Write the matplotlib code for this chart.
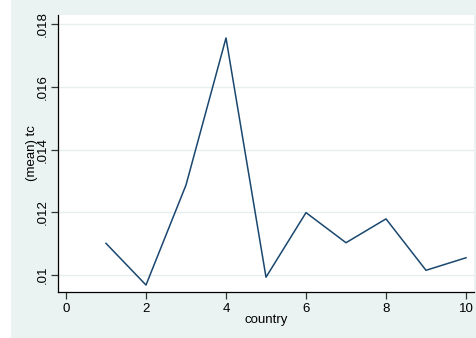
import matplotlib
matplotlib.use("Agg")
import matplotlib.pyplot as plt
from matplotlib.patches import Rectangle

# mean of tc by country
country = [1, 2, 3, 4, 5, 6, 7, 8, 9, 10]
mean_tc = [0.01101, 0.00968, 0.01287, 0.01756, 0.00993, 0.01199, 0.01103, 0.01179, 0.01015, 0.01055]

x_ticks = [0, 2, 4, 6, 8, 10]
y_ticks = [0.010, 0.012, 0.014, 0.016, 0.018]
y_tick_labels = [".01", ".012", ".014", ".016", ".018"]

plt.rcParams["font.family"] = ["Liberation Sans", "DejaVu Sans"]

W, H = 477, 338
fig = plt.figure(figsize=(W / 100, H / 100), dpi=100, facecolor="white")

# graph region background
fig.patches.append(Rectangle((11 / W, 0), 1 - 11 / W, 1, transform=fig.transFigure,
                             facecolor="#EAF2F2", edgecolor="none", zorder=-10))

ax = fig.add_axes([58 / W, 1 - 292 / H, (474 - 58) / W, (292 - 15) / H])
ax.set_zorder(5)
ax.set_facecolor("white")

ax.plot(country, mean_tc, color="#1A476F", linewidth=1.1, zorder=3)

ax.set_xlim(-0.2, 10.2)
ax.set_ylim(0.009458, 0.018293)

ax.set_xticks(x_ticks)
ax.set_xticklabels([str(v) for v in x_ticks])
ax.set_yticks(y_ticks)
ax.set_yticklabels(y_tick_labels, rotation=90, va="center")

ax.grid(axis="y", color="#E6EFEF", linewidth=1.0, zorder=1)
ax.grid(axis="x", visible=False)

for side in ("top", "right"):
    ax.spines[side].set_visible(False)
for side in ("left", "bottom"):
    ax.spines[side].set_color("#000000")
    ax.spines[side].set_linewidth(0.9)

ax.tick_params(axis="both", direction="out", length=5, width=0.9, color="#333333",
               labelsize=9.5, labelcolor="#000000", pad=3)
ax.tick_params(axis="y", pad=2)

ax.set_xlabel("country", fontsize=9.5, labelpad=-1)
ax.set_ylabel("(mean) tc", fontsize=9.5, labelpad=-1)

fig.savefig("out.png", dpi=100, facecolor=fig.get_facecolor())
